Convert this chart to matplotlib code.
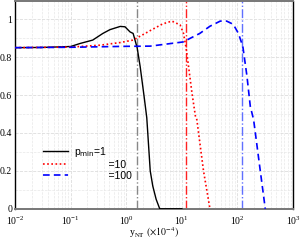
import numpy as np
import matplotlib
matplotlib.use("Agg")
import matplotlib.pyplot as plt
from matplotlib.ticker import LogLocator, FixedLocator, NullFormatter
from matplotlib.font_manager import FontProperties

plt.rcParams['font.family'] = ['Liberation Serif', 'DejaVu Serif']
plt.rcParams['mathtext.fontset'] = 'stix'

# pmin = 1 (black solid)
x1 = [0.01, 0.03, 0.1, 0.148, 0.25, 0.38, 0.51, 0.78, 0.95, 1.17, 1.33, 1.57, 1.78, 2.1, 2.34, 2.7, 3.0, 3.45, 4.0, 10.0]
y1 = [0.85, 0.851, 0.856, 0.872, 0.89, 0.925, 0.945, 0.962, 0.96, 0.933, 0.925, 0.85, 0.75, 0.59, 0.48, 0.2, 0.12, 0.05, 0.0, 0.0]
# pmin = 10 (red dotted)
x10 = [0.01, 0.1, 0.34, 0.78, 1.33, 2.7, 4.5, 6.6, 9.3, 10.7, 11.9, 13.2, 15.2, 17.5, 18.6, 24.5, 32.0]
y10 = [0.85, 0.853, 0.863, 0.877, 0.89, 0.94, 0.975, 0.99, 0.97, 0.925, 0.85, 0.75, 0.61, 0.49, 0.47, 0.2, 0.0]
# pmin = 100 (blue dashed)
x100 = [0.01, 0.1, 1.0, 2.7, 10.5, 21, 32, 49, 64, 84, 104, 125, 148, 170, 195, 257, 316]
y100 = [0.85, 0.852, 0.857, 0.858, 0.88, 0.925, 0.963, 0.99, 0.99, 0.973, 0.925, 0.855, 0.70, 0.54, 0.47, 0.2, 0.0]
# vertical markers
vlines = [1.55, 11.9, 121]
vcolors = ['#888888', '#ff2222', '#6070ff']
labels = [r'p$_{\rm min}$=1', '            =10', '            =100']

fig = plt.figure(figsize=(3.0, 2.4), dpi=100)
ax = fig.add_axes([0.05, 0.13, 0.927, 0.865])

for v, c in zip(vlines, vcolors):
    ax.axvline(v, color=c, ls='-.', lw=1.0, zorder=2)

ax.plot(x1, y1, color='black', lw=1.0, ls='-', label=labels[0], zorder=3)
ax.plot(x10, y10, color='red', lw=1.2, ls=(0, (1, 1.5)), label=labels[1], zorder=3)
ax.plot(x100, y100, color='blue', lw=1.2, ls=(0, (4, 2.5)), label=labels[2], zorder=3)

ax.set_xscale('log')
ax.set_xlim(1e-2, 1e3)
ax.set_ylim(0, 1.095)
ax.xaxis.set_major_locator(LogLocator(base=10, numticks=10))
ax.xaxis.set_minor_locator(LogLocator(base=10, subs=np.arange(2, 10), numticks=20))
ax.xaxis.set_minor_formatter(NullFormatter())
ax.yaxis.set_major_locator(FixedLocator([0, 0.2, 0.4, 0.6, 0.8, 1.0]))
ax.yaxis.set_minor_locator(FixedLocator([0.1, 0.3, 0.5, 0.7, 0.9]))
ax.set_yticklabels(['0', '0.2', '0.4', '0.6', '0.8', '1'])
ax.grid(True, which='major', color='#dddddd', ls='--', lw=0.6, zorder=0)
ax.grid(True, which='minor', color='#e8e8e8', ls='--', lw=0.5, zorder=0)
ax.tick_params(axis='y', which='both', length=0, labelsize=7, pad=2)
ax.tick_params(axis='x', which='both', length=0, labelsize=7, pad=4)

for s in ['top', 'bottom']:
    ax.spines[s].set_color('#777777')
    ax.spines[s].set_linewidth(1.4)
for s in ['left', 'right']:
    ax.spines[s].set_color('black')
    ax.spines[s].set_linewidth(1.0)

ax.set_xlabel(r'y$_{\rm NT}$ $(\times10^{-4})$', fontsize=7, labelpad=-1)

legprop = FontProperties(family='Liberation Sans', size=7.5, math_fontfamily='dejavusans')
leg = ax.legend(loc='lower left', bbox_to_anchor=(0.075, 0.1), frameon=False, prop=legprop,
                handlelength=2.4, labelspacing=0.1, handletextpad=0.6, borderpad=0.2)

fig.savefig('out.png', dpi=100)
